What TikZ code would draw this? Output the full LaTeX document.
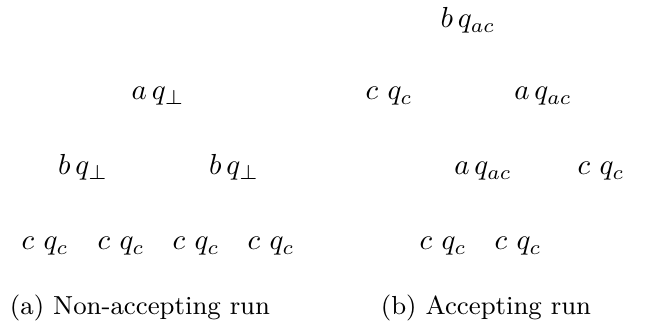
\documentclass[tikz,border=0pt]{standalone}
\begin{document}
\begin{tikzpicture}[x=0.345pt,y=-0.345pt,
  lbl/.style={anchor=base,inner sep=0pt,outer sep=0pt},
  captext/.style={anchor=base,inner sep=0pt,outer sep=0pt,font=\small}]
\useasboundingbox (0,0) rectangle (656,324);
% left tree
\node[lbl] (l0) at (158,100) {$a\,q_{\perp}$};
\node[lbl] (l1) at (83,175) {$b\,q_{\perp}$};
\node[lbl] (l2) at (234,175) {$b\,q_{\perp}$};
\node[lbl] (l3) at (45,250) {$c\ q_c$};
\node[lbl] (l4) at (121,250) {$c\ q_c$};
\node[lbl] (l5) at (196,250) {$c\ q_c$};
\node[lbl] (l6) at (271,250) {$c\ q_c$};
% right tree
\node[lbl] (r0) at (468,28) {$b\,q_{ac}$};
\node[lbl] (r1) at (389,100) {$c\ q_c$};
\node[lbl] (r2) at (543,100) {$a\,q_{ac}$};
\node[lbl] (r3) at (483,175) {$a\,q_{ac}$};
\node[lbl] (r4) at (601,175) {$c\ q_c$};
\node[lbl] (r5) at (443,250) {$c\ q_c$};
\node[lbl] (r6) at (518,250) {$c\ q_c$};
% captions
\node[captext] (ca) at (140,315) {(a) Non-accepting run};
\node[captext] (cb) at (486,315) {(b) Accepting run};
\end{tikzpicture}
\end{document}
